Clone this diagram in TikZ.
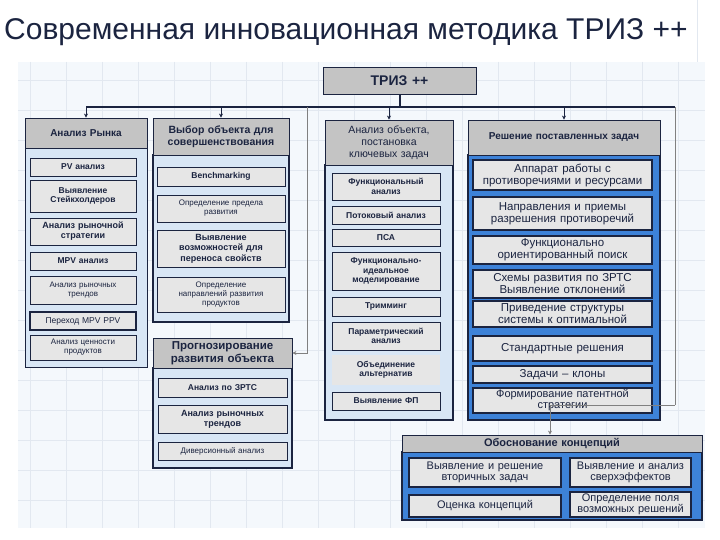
\documentclass[tikz,border=0pt]{standalone}
\usepackage{fontspec}
\setmainfont{Liberation Sans}
\usetikzlibrary{arrows.meta}
\definecolor{navy}{HTML}{1B2440}
\definecolor{hdr}{HTML}{C4C4C4}
\definecolor{lbody}{HTML}{D8E6F5}
\definecolor{bbody}{HTML}{3D82D8}
\definecolor{itm}{HTML}{E6E6E6}
\definecolor{bg}{HTML}{F4F8FC}
\definecolor{grid}{HTML}{E2E8F0}
\tikzset{
  hdrbox/.style={draw=navy,fill=hdr,line width=0.8pt,align=center,inner sep=0pt,font=\fontsize{10}{11}\selectfont\bfseries,text=navy},
  lbodybox/.style={draw=navy,fill=lbody,line width=1pt,inner sep=0pt},
  dbodybox/.style={draw=navy,fill=lbody,line width=2pt,inner sep=0pt},
  bbodybox/.style={draw=navy,fill=bbody,line width=2pt,inner sep=0pt},
  itembox/.style={draw=navy,fill=itm,line width=0.8pt,align=center,inner sep=0pt,font=\fontsize{8.5}{9.5}\selectfont\bfseries,text=navy},
  thinbox/.style={itembox,font=\fontsize{8}{9}\selectfont},
  bitem/.style={draw=navy,fill=itm,line width=1.2pt,align=center,inner sep=0pt,font=\fontsize{11.5}{12}\selectfont,text=navy},
  bus/.style={draw=navy,line width=2pt},
  link/.style={draw=navy,line width=0.6pt},
  arr/.style={draw=navy,line width=0.6pt,-{Stealth[length=4pt,width=4pt]}},
}
\newcommand\bx[7]{\node[minimum width={(#4-#2)*1pt},minimum height={(#5-#3)*1pt},text width={(#4-#2-4)*1pt},#6] (#1) at ({(#2+#4)/2},{(#3+#5)/2}) {#7};}
\begin{document}
\begin{tikzpicture}[x=1pt,y=-1pt]
\useasboundingbox (0,0) rectangle (720,540);
\fill[white] (0,0) rectangle (720,540);
\fill[bg] (18,62) rectangle (705,528);
\foreach \x in {30,66,...,700} \draw[grid,line width=0.4pt] (\x,62) -- (\x,528);
\foreach \y in {80,110,...,520} \draw[grid,line width=0.4pt] (18,\y) -- (705,\y);
\draw[grid,line width=0.6pt] (697,0) -- (697,62);
\node[anchor=west,font=\fontsize{30}{32}\selectfont,text=navy,inner sep=0pt] (title) at (4,32) {Современная инновационная методика ТРИЗ ++};

\bx{triz}{323}{67}{476}{94}{hdrbox,font=\fontsize{14}{15}\selectfont\bfseries}{ТРИЗ ++}

% column 1
\bx{c1b}{25}{148}{147}{367}{lbodybox}{}
\bx{c1h}{25}{118}{147}{148}{hdrbox,font=\fontsize{10}{11}\selectfont\bfseries}{Анализ Рынка}
\bx{a1}{30}{158}{136}{176}{itembox}{PV анализ}
\bx{a2}{30}{180}{136}{212}{itembox}{Выявление Стейкхолдеров}
\bx{a3}{30}{218}{136}{245}{itembox,font=\fontsize{9}{10}\selectfont\bfseries}{Анализ рыночной стратегии}
\bx{a4}{30}{252}{136}{270}{itembox}{MPV анализ}
\bx{a5}{30}{276}{136}{304}{thinbox}{Анализ рыночных\\трендов}
\bx{a6}{30}{312}{136}{330}{itembox,font=\fontsize{8.5}{9.5}\selectfont,line width=1.5pt}{Переход MPV PPV}
\bx{a7}{30}{335}{136}{360}{thinbox}{Анализ ценности\\продуктов}

% column 2
\bx{c2b}{153}{155}{289}{322}{dbodybox}{}
\bx{c2h}{153}{118}{289}{155}{hdrbox,font=\fontsize{10.5}{12.5}\selectfont\bfseries}{Выбор объекта для совершенствования}
\bx{b1}{157}{167}{285}{186}{itembox}{Benchmarking}
\bx{b2}{157}{195}{285}{222}{thinbox}{Определение предела\\развития}
\bx{b3}{157}{230}{285}{267}{itembox,font=\fontsize{9}{10.5}\selectfont\bfseries}{Выявление\\возможностей для\\переноса свойств}
\bx{b4}{157}{277}{285}{312}{thinbox}{Определение\\направлений развития\\продуктов}
\bx{c5b}{153}{368}{292}{468}{dbodybox}{}
\bx{c5h}{153}{338}{292}{368}{hdrbox,font=\fontsize{11.5}{13}\selectfont\bfseries}{Прогнозирование развития объекта}
\bx{p1}{158}{378}{287}{397}{itembox}{Анализ по ЗРТС}
\bx{p2}{158}{405}{287}{433}{itembox,font=\fontsize{9}{10}\selectfont\bfseries}{Анализ рыночных\\трендов}
\bx{p3}{158}{442}{287}{460}{thinbox}{Диверсионный анализ}

% column 3
\bx{c3b}{325}{165}{453}{420}{dbodybox}{}
\bx{c3h}{325}{120}{453}{165}{hdrbox,font=\fontsize{10.5}{12}\selectfont}{Анализ объекта, постановка ключевых задач}
\bx{d1}{332}{173}{440}{200}{itembox}{Функциональный анализ}
\bx{d2}{332}{206}{440}{224}{itembox}{Потоковый анализ}
\bx{d3}{332}{229}{440}{246}{itembox}{ПСА}
\bx{d4}{332}{252}{440}{290}{itembox}{Функционально-идеальное моделирование}
\bx{d5}{332}{297}{440}{316}{itembox}{Тримминг}
\bx{d6}{332}{322}{440}{350}{itembox}{Параметрический анализ}
\bx{d7}{332}{355}{440}{385}{itembox,draw=none}{Объединение альтернатив}
\bx{d8}{332}{392}{440}{410}{itembox}{Выявление ФП}

% column 4
\bx{c4b}{468}{155}{660}{420}{bbodybox}{}
\bx{c4h}{468}{120}{660}{155}{hdrbox,font=\fontsize{10}{11}\selectfont\bfseries}{Решение поставленных задач}
\bx{e1}{473}{160}{652}{190}{bitem}{Аппарат работы с противоречиями и ресурсами}
\bx{e2}{473}{197}{652}{230}{bitem}{Направления и приемы разрешения противоречий}
\bx{e3}{473}{236}{652}{264}{bitem}{Функционально ориентированный поиск}
\bx{e4}{473}{270}{652}{298}{bitem}{Схемы развития по ЗРТС Выявление отклонений}
\bx{e5}{473}{301}{652}{327}{bitem}{Приведение структуры системы к оптимальной}
\bx{e6}{473}{336}{652}{361}{bitem}{Стандартные решения}
\bx{e7}{473}{366}{652}{383}{bitem}{Задачи – клоны}
\bx{e8}{473}{388}{652}{413}{bitem,font=\fontsize{11}{11}\selectfont}{Формирование патентной\\стратегии}

% bottom
\bx{c6b}{402}{452}{702}{520}{bbodybox}{}
\bx{c6h}{402}{435}{702}{452}{hdrbox,font=\fontsize{11}{12}\selectfont\bfseries}{Обоснование концепций}
\bx{f1}{409}{458}{561}{487}{bitem,font=\fontsize{11}{11.5}\selectfont}{Выявление и решение вторичных задач}
\bx{f2}{409}{495}{561}{517}{bitem,font=\fontsize{11}{11.5}\selectfont}{Оценка концепций}
\bx{f3}{570}{458}{691}{487}{bitem,font=\fontsize{11}{11.5}\selectfont}{Выявление и анализ сверхэффектов}
\bx{f4}{570}{492}{691}{517}{bitem,font=\fontsize{11}{11.5}\selectfont}{Определение поля возможных решений}

% connectors
\coordinate (busL) at (86,107);
\coordinate (busR) at (675,107);
\coordinate (dropR) at (675,405);
\coordinate (dropM) at (307,107);
\draw[bus] (busL) -- (busR);
\draw[bus] (triz.south) -- (triz.south |- busL);
\draw[arr] (busL) -- (c1h.north);
\draw[arr] (c2h.north |- busL) -- (c2h.north);
\draw[arr] (c3h.north |- busL) -- (c3h.north);
\draw[arr] (c4h.north |- busL) -- (c4h.north);
\draw[link,draw=gray] (busR) -- (dropR);
\draw[arr,draw=gray] (dropR) -| (550,405) -- (c6h.north -| 550,0);
\draw[arr,draw=gray] (dropM) |- (c5h.east);
\end{tikzpicture}
\end{document}
